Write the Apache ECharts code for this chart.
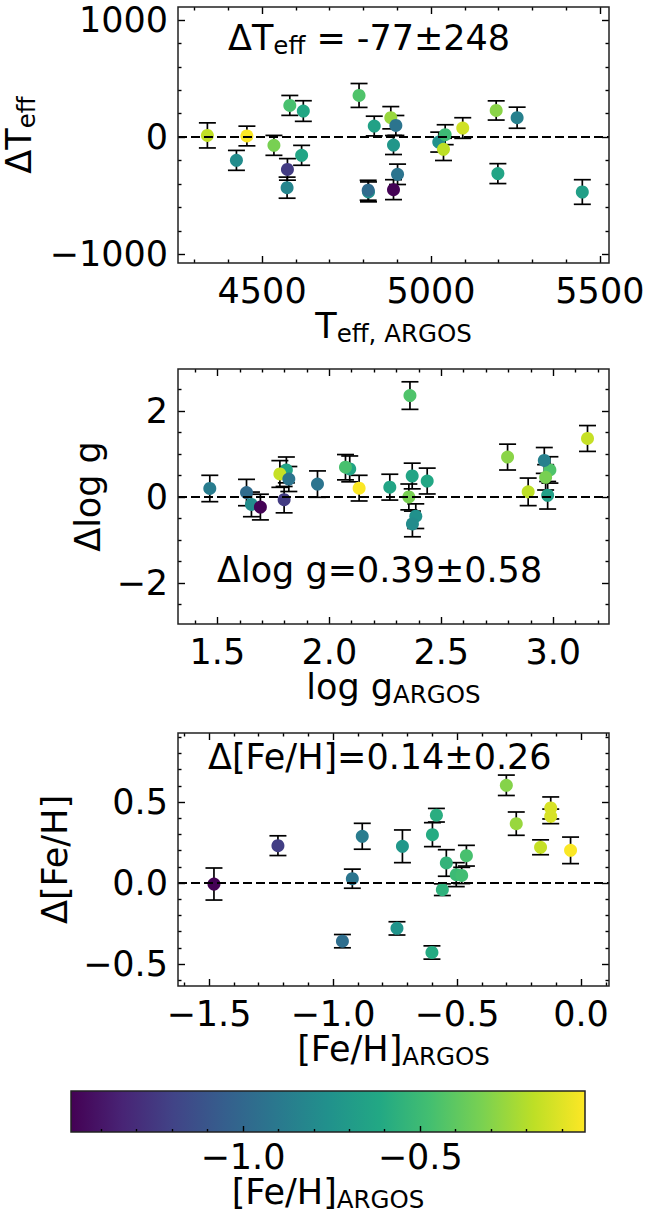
<!DOCTYPE html>
<html><head><meta charset="utf-8">
<script src="https://cdn.jsdelivr.net/npm/echarts@6/dist/echarts.min.js"></script>
<style>html,body{margin:0;padding:0;background:#fff}#c{width:646px;height:1213px}</style>
</head><body><div id="c"></div>
<script>
// ---------------- data ----------------
// Panel 1: Teff
const teffArgos = [4338,4424,4455,4535,4582,4575,4574,4622,4617,4787,4832,4815,4814,4881,4896,4889,4901,4889,5023,5042,5037,5094,5193,5198,5255,5448];
const dTeff     = [14,-199,9,-71,270,-276,-432,222,-156,355,94,-468,-454,165,99,-68,-318,-449,-43,20,-105,77,227,-312,165,-469];
const dTeffErr  = [107,85,84,85,85,92,90,88,85,102,84,85,85,95,85,81,87,85,85,85,95,88,82,85,90,105];
const teffFeh   = [-0.17,-0.79,-0.04,-0.33,-0.46,-1.23,-0.83,-0.62,-0.64,-0.44,-0.66,-0.76,-0.98,-0.26,-0.93,-0.73,-0.93,-1.48,-0.76,-0.50,-0.18,-0.14,-0.29,-0.64,-0.86,-0.67];

// Panel 2: log g
const loggArgos = [1.466,1.630,1.652,1.692,1.808,1.779,1.819,1.798,1.947,2.091,2.072,2.133,2.270,2.360,2.370,2.355,2.386,2.371,2.437,2.796,2.888,2.985,2.960,2.966,2.975,3.153];
const dLogg     = [0.196,0.102,-0.173,-0.235,0.627,0.533,0.416,-0.063,0.298,0.651,0.690,0.204,0.227,2.353,0.486,0.0,-0.447,-0.627,0.369,0.925,0.118,0.627,0.847,0.455,0.039,1.357];
const dLoggErr  = [0.306,0.306,0.286,0.298,0.30,0.31,0.29,0.306,0.306,0.30,0.294,0.298,0.30,0.32,0.298,0.30,0.286,0.298,0.30,0.30,0.32,0.306,0.30,0.294,0.32,0.30];
const loggFeh   = [-0.88,-0.98,-0.79,-1.48,-0.64,-0.16,-0.93,-1.23,-0.93,-0.64,-0.46,-0.04,-0.64,-0.44,-0.64,-0.33,-0.76,-0.79,-0.62,-0.29,-0.18,-0.44,-0.86,-0.33,-0.67,-0.16];

// Panel 3: [Fe/H]
const fehArgos = [-1.48,-1.222,-0.962,-0.922,-0.882,-0.742,-0.720,-0.599,-0.601,-0.583,-0.559,-0.543,-0.503,-0.481,-0.462,-0.301,-0.261,-0.163,-0.122,-0.122,-0.042];
const dFeh     = [-0.006,0.231,-0.359,0.027,0.289,-0.280,0.227,0.299,-0.429,0.419,-0.041,0.124,0.052,0.047,0.169,0.604,0.367,0.221,0.464,0.412,0.202];
const dFehErr  = [0.099,0.061,0.041,0.059,0.080,0.041,0.101,0.074,0.041,0.042,0.036,0.082,0.074,0.05,0.064,0.063,0.072,0.046,0.068,0.045,0.082];

// Axis ranges & ticks
const p1X = [4251, 5527], p1Y = [-1075, 1110];
const p2X = [1.324, 3.249], p2Y = [-2.95, 2.97];
const p3X = [-1.625, 0.113], p3Y = [-0.636, 0.927];
const cbRange = [-1.485, -0.035];

const p1XMajor = [4500, 5000, 5500];
const p1XMinor = [4300,4400,4600,4700,4800,4900,5100,5200,5300,5400];
const p1YMajor = [-1000, 0, 1000];
const p1YMinor = [-800,-600,-400,-200,200,400,600,800];
const p2XMajor = [1.5, 2.0, 2.5, 3.0];
const p2XMinor = [1.4,1.6,1.7,1.8,1.9,2.1,2.2,2.3,2.4,2.6,2.7,2.8,2.9,3.1,3.2];
const p2YMajor = [-2, 0, 2];
const p2YMinor = [-2.5,-1.5,-1,-0.5,0.5,1,1.5,2.5];
const p3XMajor = [-1.5, -1.0, -0.5, 0.0];
const p3XMinor = [-1.6,-1.4,-1.3,-1.2,-1.1,-0.9,-0.8,-0.7,-0.6,-0.4,-0.3,-0.2,-0.1,0.1];
const p3YMajor = [-0.5, 0.0, 0.5];
const p3YMinor = [-0.6,-0.4,-0.3,-0.2,-0.1,0.1,0.2,0.3,0.4,0.6,0.7,0.8,0.9];
const cbMajor = [-1.0, -0.5];
const cbMinor = [-1.4,-1.3,-1.2,-1.1,-0.9,-0.8,-0.7,-0.6,-0.4,-0.3,-0.2,-0.1];

const viridis = ['#440154','#482475','#414487','#355f8d','#2a788e','#21918c','#22a884','#44bf70','#7ad151','#bddf26','#fde725'];

// ---------------- chart ----------------
const FONT = 'DejaVu Sans';
const FS = 35, SFS = 24.5;
const richOpt = {
  m: {fontSize: FS, fontFamily: FONT, color: '#000', lineHeight: 40},
  s: {fontSize: SFS, fontFamily: FONT, color: '#000', lineHeight: 24, verticalAlign: 'bottom'}
};
const richGfx = {
  m: {fontSize: FS, fontFamily: FONT, fill: '#000', lineHeight: 40},
  s: {fontSize: SFS, fontFamily: FONT, fill: '#000', lineHeight: 24, verticalAlign: 'bottom'}
};
const minus = s => s.replace('-', '\u2212');
const fmtInt = v => minus(String(Math.round(v)));
const fmt1 = v => minus((Math.abs(v) < 1e-9 ? 0 : v).toFixed(1));

const grids = [
  {left: 178, top: 7, width: 431, height: 256},
  {left: 178, top: 369, width: 431, height: 255},
  {left: 178, top: 733, width: 431, height: 253},
  {left: 71, top: 1091, width: 514, height: 41}
].map(g => Object.assign(g, {show: true, borderColor: '#222', borderWidth: 1.5, backgroundColor: 'transparent', z: 10, containLabel: false, outerBoundsMode: 'none'}));

const xAxes = [], yAxes = [];
function addAxes(list, g, positions, range, major, minor, fmt, nameCfg, majLen, minLen, margin) {
  const mainIdx = list.length;
  positions.forEach((pos, pi) => {
    [[major, majLen || 7], [minor, minLen || 3.5]].forEach(([vals, len], ti) => {
      const isMain = pi === 0 && ti === 0;
      const ax = {
        type: 'value', gridIndex: g, min: range[0], max: range[1], position: pos,
        axisLine: {show: false, onZero: false},
        splitLine: {show: false}, splitArea: {show: false},
        axisTick: {show: true, inside: true, length: len, customValues: vals, lineStyle: {color: '#000', width: 1.4}},
        axisLabel: {show: isMain, customValues: vals, formatter: fmt, fontSize: FS, fontFamily: FONT, color: '#000', margin: margin || 10},
        axisPointer: {show: false}, silent: true, z: 5
      };
      if (isMain && nameCfg) Object.assign(ax, nameCfg, {nameLocation: 'middle', nameTextStyle: {rich: richOpt}});
      list.push(ax);
    });
  });
  return mainIdx;
}

const x1 = addAxes(xAxes, 0, ['bottom', 'top'], p1X, p1XMajor, p1XMinor, fmtInt, {name: '{m|T}{s|eff, ARGOS}', nameGap: 42});
const y1 = addAxes(yAxes, 0, ['left', 'right'], p1Y, p1YMajor, p1YMinor, fmtInt, {name: '{m|ΔT}{s|eff}', nameGap: 132, nameRotate: 90});
const x2 = addAxes(xAxes, 1, ['bottom', 'top'], p2X, p2XMajor, p2XMinor, fmt1, {name: '{m|log g}{s|ARGOS}', nameGap: 40});
const y2 = addAxes(yAxes, 1, ['left', 'right'], p2Y, p2YMajor, p2YMinor, fmtInt, {name: '{m|Δlog g}', nameGap: 65, nameRotate: 90});
const x3 = addAxes(xAxes, 2, ['bottom', 'top'], p3X, p3XMajor, p3XMinor, fmt1, {name: '{m|[Fe/H]}{s|ARGOS}', nameGap: 41});
const y3 = addAxes(yAxes, 2, ['left', 'right'], p3Y, p3YMajor, p3YMinor, fmt1, {name: '{m|Δ[Fe/H]}', nameGap: 96, nameRotate: 90});
const x4 = addAxes(xAxes, 3, ['bottom'], cbRange, cbMajor, cbMinor, fmt1, {name: '{m|[Fe/H]}{s|ARGOS}', nameGap: 31}, 6, 3, 7);
const y4 = yAxes.length;
yAxes.push({type: 'value', gridIndex: 3, min: 0, max: 1, show: false});

function errSeries(xi, yi, xs, ys, es) {
  return {
    type: 'custom', xAxisIndex: xi, yAxisIndex: yi, z: 3, silent: true, clip: false,
    data: xs.map((x, i) => [x, ys[i], es[i]]),
    encode: {x: 0, y: 1},
    renderItem(params, api) {
      const x = api.value(0), y = api.value(1), e = api.value(2);
      const t = api.coord([x, y + e]), b = api.coord([x, y - e]);
      const cap = 8.5, st = {stroke: '#000', lineWidth: 1.7};
      return {type: 'group', children: [
        {type: 'line', shape: {x1: t[0], y1: t[1], x2: b[0], y2: b[1]}, style: st},
        {type: 'line', shape: {x1: t[0] - cap, y1: t[1], x2: t[0] + cap, y2: t[1]}, style: st},
        {type: 'line', shape: {x1: b[0] - cap, y1: b[1], x2: b[0] + cap, y2: b[1]}, style: st}
      ]};
    },
    markLine: {silent: true, symbol: ['none', 'none'], label: {show: false}, animation: false,
      lineStyle: {color: '#000', width: 2, type: [9, 4]}, data: [{yAxis: 0}]}
  };
}
function dotSeries(xi, yi, xs, ys, cs) {
  return {
    type: 'scatter', xAxisIndex: xi, yAxisIndex: yi, z: 4, silent: true,
    symbol: 'circle', symbolSize: 13, itemStyle: {opacity: 1},
    data: xs.map((x, i) => [x, ys[i], cs[i]])
  };
}

const series = [
  errSeries(x1, y1, teffArgos, dTeff, dTeffErr), dotSeries(x1, y1, teffArgos, dTeff, teffFeh),
  errSeries(x2, y2, loggArgos, dLogg, dLoggErr), dotSeries(x2, y2, loggArgos, dLogg, loggFeh),
  errSeries(x3, y3, fehArgos, dFeh, dFehErr), dotSeries(x3, y3, fehArgos, dFeh, fehArgos),
  {
    type: 'custom', xAxisIndex: x4, yAxisIndex: y4, z: 2, silent: true, clip: false,
    data: [[cbRange[0], cbRange[1]]], encode: {x: [0, 1]},
    renderItem(params, api) {
      const p0 = api.coord([api.value(0), 1]), p1 = api.coord([api.value(1), 0]);
      return {type: 'rect', shape: {x: p0[0], y: p0[1], width: p1[0] - p0[0], height: p1[1] - p0[1]},
        style: {fill: new echarts.graphic.LinearGradient(0, 0, 1, 0,
          viridis.map((c, i) => ({offset: i / (viridis.length - 1), color: c})))}};
    }
  }
];

const chart = echarts.init(document.getElementById('c'), null, {renderer: 'svg', width: 646, height: 1213});
chart.setOption({
  animation: false,
  backgroundColor: '#fff',
  grid: grids,
  xAxis: xAxes,
  yAxis: yAxes,
  visualMap: {type: 'continuous', show: false, min: cbRange[0], max: cbRange[1], dimension: 2,
    seriesIndex: [1, 3, 5], inRange: {color: viridis}},
  series: series,
  graphic: [
    {type: 'text', x: 228, y: 38, z: 20, style: {text: '{m|ΔT}{s|eff}{m| = -77±248}', rich: richGfx, align: 'left', verticalAlign: 'middle'}},
    {type: 'text', x: 217, y: 570, z: 20, style: {text: '{m|Δlog g=0.39±0.58}', rich: richGfx, align: 'left', verticalAlign: 'middle'}},
    {type: 'text', x: 208, y: 757, z: 20, style: {text: '{m|Δ[Fe/H]=0.14±0.26}', rich: richGfx, align: 'left', verticalAlign: 'middle'}}
  ]
});
</script></body></html>
